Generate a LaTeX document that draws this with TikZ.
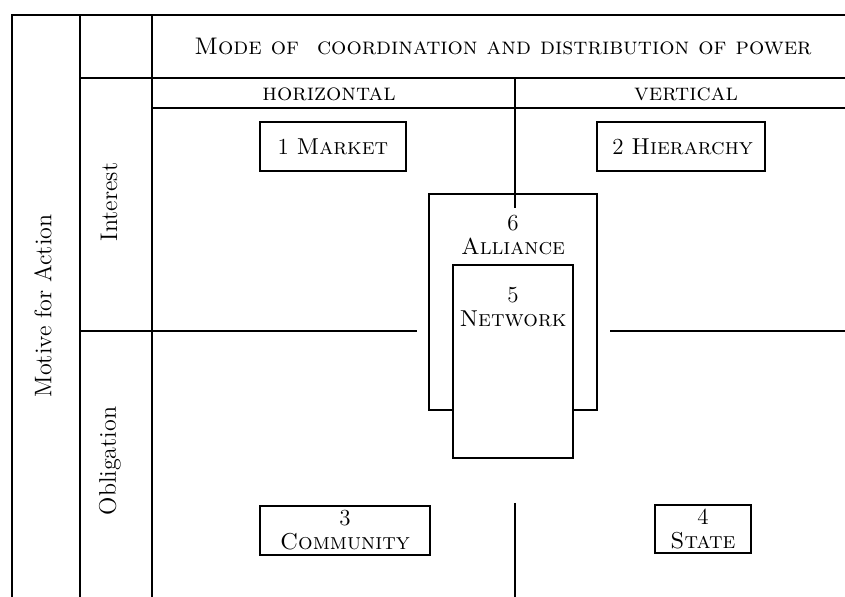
\documentclass[tikz,border=0pt]{standalone}
\begin{document}
\begin{tikzpicture}[x=0.5pt,y=-0.5pt,
  grid/.style={line width=0.85pt},
  box/.style={draw, line width=0.75pt, fill=white, inner sep=0pt, align=center, font=\fontsize{11.5}{12}\selectfont},
  lbl/.style={font=\fontsize{12}{12}\selectfont, align=center, inner sep=0pt}]
\useasboundingbox (0,0) rectangle (845,597);
% grid
\draw[grid] (845,15) -- (12,15) -- (12,597);
\draw[grid] (80,15) -- (80,597);
\draw[grid] (152,15) -- (152,597);
\draw[grid] (80,78) -- (845,78);
\draw[grid] (152,108) -- (845,108);
\draw[grid] (80,331) -- (417,331);
\draw[grid] (610,331) -- (845,331);
\draw[grid] (515,503) -- (515,597);
% headers
\node[lbl] (mode) at (503,46) {\textsc{Mode of\ \ coordination and distribution of power}};
\node[lbl] (horiz) at (329,94) {\textsc{horizontal}};
\node[lbl] (vert) at (686,94) {\textsc{vertical}};
\node[lbl, rotate=90] (motive) at (43,306) {Motive for Action};
\node[lbl, rotate=90] (interest) at (109,202) {Interest};
\node[lbl, rotate=90] (oblig) at (110,461) {Obligation};
% boxes
\node[box, minimum width=73pt, minimum height=24.5pt] (market) at (333,146.5) {1 \textsc{Market}};
\node[box, minimum width=84pt, minimum height=24.5pt, text width=72pt, align=right] (hier) at (681,146.5) {2 \textsc{Hierarchy}};
\node[box, minimum width=85pt, minimum height=24.5pt] (comm) at (345,530.5) {3\\\textsc{Community}};
\node[box, minimum width=48pt, minimum height=24pt] (state) at (703,529) {4\\\textsc{State}};
\node[box, minimum width=84pt, minimum height=108pt] (alliance) at (513,302) {};
\draw[grid] (515,78) -- (515,208);
\node[lbl, anchor=north, font=\fontsize{11.5}{12}\selectfont] (alliancetxt) at (513,215) {6\\\textsc{Alliance}};
\node[box, minimum width=60pt, minimum height=96.5pt] (network) at (513,361.5) {};
\node[lbl, anchor=north, font=\fontsize{11.5}{12}\selectfont] (networktxt) at (513,287) {5\\\textsc{Network}};
\end{tikzpicture}
\end{document}
